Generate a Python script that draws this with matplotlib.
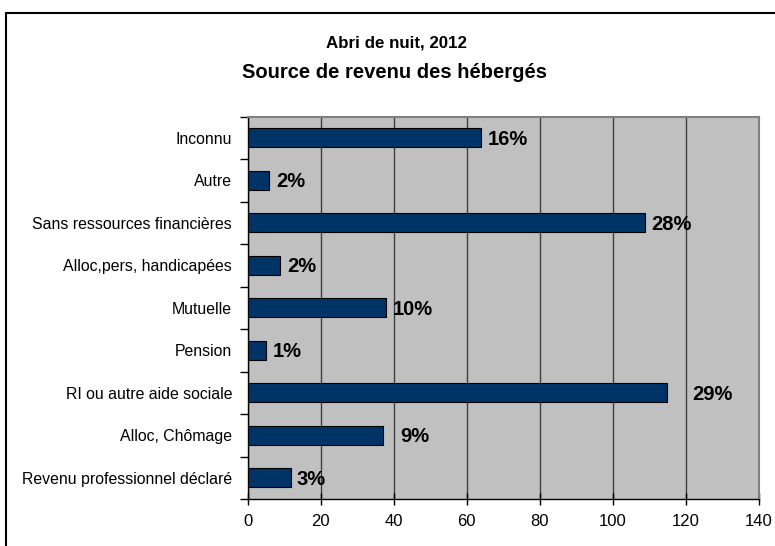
import matplotlib.pyplot as plt
from matplotlib.patches import Rectangle
from matplotlib.ticker import FixedLocator
import numpy as np

# Sources de revenu (nombre d'hébergés), de haut en bas
categories = ["Inconnu", "Autre", "Sans ressources financières",
              "Alloc,pers, handicapées", "Mutuelle", "Pension",
              "RI ou autre aide sociale", "Alloc, Chômage",
              "Revenu professionnel déclaré"]
counts = [64, 6, 109, 9, 38, 5, 115, 37, 12]
x_ticks = [0, 20, 40, 60, 80, 100, 120, 140]

# écart (en points) entre le bout de la barre et son étiquette
label_gap = [5, 5, 4, 5, 5, 5, 18, 13, 4]

plt.rcParams['font.family'] = ["Liberation Sans", "DejaVu Sans"]

fig = plt.figure(figsize=(7.75, 5.46), dpi=100)
ax = fig.add_axes([247.5 / 775, 1 - 499 / 546, 511 / 775, (499 - 116.5) / 546])

# cadre de la zone du graphique
fig.patches.append(Rectangle((6 / 775, -0.05), 1.1, 1 - 13 / 546 + 0.05,
                             transform=fig.transFigure, fill=False,
                             edgecolor="black", linewidth=1.5))

y = np.arange(len(categories))
ax.set_facecolor("#c0c0c0")
ax.barh(y, counts, height=0.44, color="#003366", edgecolor="black",
        linewidth=0.8, zorder=3)

total = sum(counts)
for yi, c, gap in zip(y, counts, label_gap):
    ax.annotate(f"{round(100 * c / total)}%", (c, yi), xytext=(gap, -1),
                textcoords="offset points", va="center", ha="left",
                fontsize=14.5, fontweight="bold", zorder=4)

ax.set_xlim(0, 140)
ax.set_ylim(len(categories) - 0.5, -0.5)
ax.set_xticks(x_ticks)
ax.tick_params(axis="x", direction="inout", length=8, width=1,
               labelsize=12, pad=7)
ax.xaxis.grid(True, color="#404040", linewidth=1, zorder=1)

ax.set_yticks(y)
ax.set_yticklabels(categories, fontsize=11.4)
ax.tick_params(axis="y", which="major", length=0, pad=11)
ax.yaxis.set_minor_locator(FixedLocator(np.arange(-0.5, len(categories), 1)))
ax.tick_params(axis="y", which="minor", direction="out", length=6, width=1)

for side in ["top", "right"]:
    ax.spines[side].set_color("#808080")
    ax.spines[side].set_linewidth(1.5)
for side in ["left", "bottom"]:
    ax.spines[side].set_color("black")
    ax.spines[side].set_linewidth(1)

fig.text(396 / 775, 1 - 43 / 546, "Abri de nuit, 2012", ha="center",
         va="center", fontweight="bold", fontsize=12.2)
fig.text(395 / 775, 1 - 73 / 546, "Source de revenu des hébergés",
         ha="center", va="center", fontweight="bold", fontsize=14.5)

fig.savefig("out.png", dpi=100)
